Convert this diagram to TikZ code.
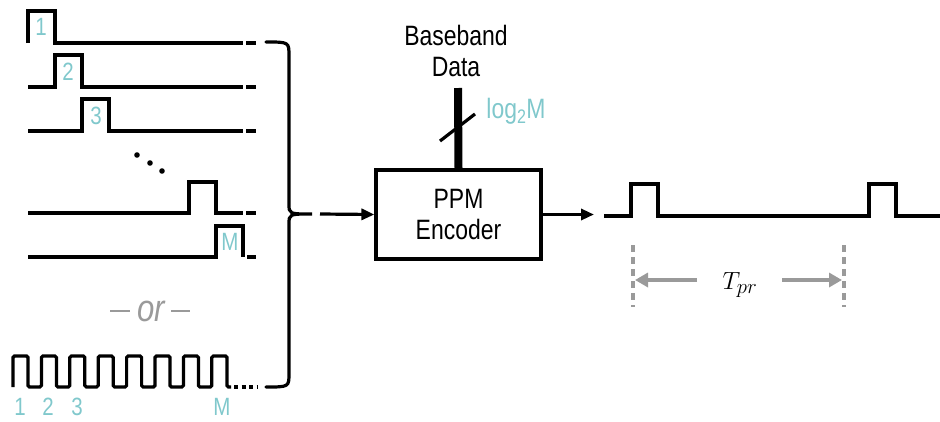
\documentclass[tikz,border=0pt]{standalone}
\usepackage{fontspec}
\setmainfont{Liberation Sans}[FakeStretch=0.82]
\usetikzlibrary{arrows.meta}
\definecolor{lblteal}{HTML}{80C8CC}
\definecolor{lblgray}{HTML}{9A9A9A}
\begin{document}
\begin{tikzpicture}[x=1pt,y=-1pt,
  wave/.style={line width=3.2pt, line join=miter},
  lbl/.style={text=lblteal, font=\fontsize{25}{28}\selectfont, inner sep=0pt},
  bigtxt/.style={font=\fontsize{28}{31}\selectfont, align=center},
  arr/.style={line width=3.2pt, -{Triangle[length=13pt,width=11pt]}},
  garr/.style={draw=lblgray, line width=3.8pt, -{Triangle[length=13pt,width=14pt]}},
  gdash/.style={draw=lblgray, line width=3.2pt, dash pattern=on 7pt off 5pt},
  gapdash/.style={line width=3.2pt}
]
\useasboundingbox (0,0) rectangle (940,421);

% ---- individual slot waveforms ----
\draw[wave] (28,43) -- (28,11) -- (55,11) -- (55,43) -- (243,43);
\draw[gapdash] (246,43) -- (256,43);
\node[lbl] (l1) at (41,27) {1};

\draw[wave] (28,87) -- (55,87) -- (55,55) -- (82,55) -- (82,87) -- (243,87);
\draw[gapdash] (246,87) -- (256,87);
\node[lbl] (l2) at (68,72) {2};

\draw[wave] (28,131) -- (82,131) -- (82,99) -- (109,99) -- (109,131) -- (243,131);
\draw[gapdash] (246,131) -- (256,131);
\node[lbl] (l3) at (96,116) {3};

\fill (137,155) circle (2.8pt);
\fill (150,163) circle (2.8pt);
\fill (162,171) circle (2.8pt);

\draw[wave] (28,213) -- (189,213) -- (189,182) -- (216,182) -- (216,213) -- (243,213);
\draw[gapdash] (246,213) -- (256,213);

\draw[wave] (28,257) -- (216,257) -- (216,226) -- (243,226) -- (243,257);
\draw[gapdash] (247,257) -- (256,257);
\node[lbl] (lM) at (230,242) {M};

% ---- or ----
\node[text=lblgray, font=\fontsize{38}{40}\selectfont\itshape] (or) at (151,311) {or};
\draw[draw=lblgray, line width=2.8pt] (110,311) -- (130,311);
\draw[draw=lblgray, line width=2.8pt] (171,311) -- (190,311);

% ---- clock waveform ----
\draw[wave, rounded corners=1.5pt] (13,387)
  \foreach \k in {0,...,6} { -- ({13+28.4*\k},356) -- ({28+28.4*\k},356) -- ({28+28.4*\k},387) -- ({41.4+28.4*\k},387) }
  -- (211.8,356) -- (227,356) -- (227,387) -- (231,387);
\draw[wave, dash pattern=on 4pt off 3.5pt] (234,387) -- (257,387);
\node[lbl] (c1) at (20,407) {1};
\node[lbl] (c2) at (48,407) {2};
\node[lbl] (c3) at (77,407) {3};
\node[lbl] (cM) at (222,407) {M};

% ---- brace ----
\draw[line width=3.2pt, line cap=round]
  (266,42) .. controls (289,42) .. (289,56) -- (289,204)
  .. controls (289,214) .. (312,214)
  .. controls (289,214) .. (289,224) -- (289,373)
  .. controls (289,387) .. (266,387);
\coordinate (bt) at (320,214);

% ---- encoder ----
\node[draw, line width=3.2pt, minimum width=165pt, minimum height=89pt, bigtxt] (enc) at (458.5,214.5) {PPM\\Encoder};
\draw[arr] (bt) -- (enc.west);
\coordinate (outEnd) at (594,214.5);
\draw[arr] (enc.east) -- (outEnd);

\node[bigtxt, inner sep=0pt] (bb) at (456,51) {Baseband\\Data};
\coordinate (busTop) at (458,88);
\draw[line width=8pt] (busTop) -- (enc.north);
\draw[line width=3.2pt] (440,141) -- (475,114);
\node[text=lblteal, font=\fontsize{28}{30}\selectfont, inner sep=0pt] (lg) at (516,111) {log\textsubscript{2}M};

% ---- output waveform ----
\draw[wave] (604,216) -- (631,216) -- (631,184) -- (658,184) -- (658,216) -- (869,216) -- (869,184) -- (896,184) -- (896,216) -- (940,216);

\draw[gdash] (633,245) -- (633,307);
\draw[gdash] (844,245) -- (844,307);
\node[font=\fontsize{30}{34}\selectfont] (tpr) at (740,285) {$T_{pr}$};
\coordinate (la) at (635,280);
\coordinate (ra) at (842,280);
\draw[garr] (697,280) -- (la);
\draw[garr] (782,280) -- (ra);
\end{tikzpicture}
\end{document}
